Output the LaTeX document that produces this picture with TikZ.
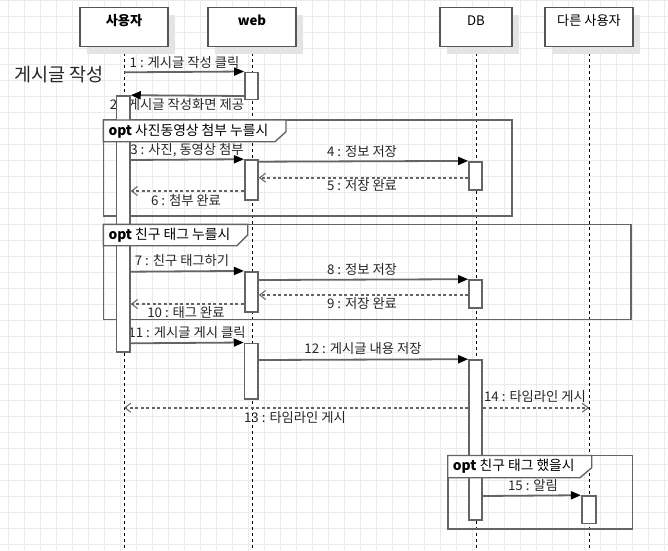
\documentclass[tikz,border=0pt]{standalone}
\usepackage{fontspec}
\setmainfont{Noto Sans CJK KR}
\usetikzlibrary{arrows.meta,calc,shadows}
\definecolor{gridc}{HTML}{EBEBEB}
\definecolor{linec}{HTML}{646464}
\definecolor{boxc}{HTML}{555555}
\definecolor{txtc}{HTML}{262626}
\definecolor{shadowc}{HTML}{E4E4E4}
\pgfdeclarelayer{bg}
\pgfdeclarelayer{lab}
\pgfdeclarelayer{fg}
\pgfsetlayers{bg,lab,main,fg}
\begin{document}
\begin{tikzpicture}[x=1pt,y=-1pt,
  gridline/.style={gridc,line width=1pt},
  lifeline/.style={black,line width=0.9pt,dash pattern=on 3pt off 3pt},
  headbox/.style={draw=boxc,line width=1.3pt,fill=white,minimum height=39pt,inner xsep=0pt,inner ysep=4pt,text height=13.5pt,text depth=17.5pt,font=\fontsize{13.2}{15}\selectfont,text=black,general shadow={fill=shadowc,shadow xshift=7pt,shadow yshift=-7pt}},
  actbar/.style={draw=linec,fill=white,line width=1.6pt,minimum width=13.3pt,inner sep=0pt},
  msg/.style={linec,line width=1.8pt,-{Triangle[length=10pt,width=8pt,color=black]}},
  ret/.style={linec,line width=1.7pt,dash pattern=on 3pt off 2.5pt,-{Straight Barb[length=6pt,width=9pt,line width=1pt]}},
  lbl/.style={font=\fontsize{13.3}{15}\selectfont,text=txtc,inner sep=0pt},
  frameline/.style={linec,line width=1.6pt},
  framehead/.style={draw=linec,fill=white,line width=1.4pt},
  ftxt/.style={font=\fontsize{13.8}{15}\selectfont,text=black,inner sep=0pt,anchor=west}]
\useasboundingbox (0,0) rectangle (668,550);
% ---------- background grid
\begin{pgfonlayer}{bg}
\fill[white] (0,0) rectangle (668,550);
\foreach \i in {0,...,41} \draw[gridline] (8+16*\i,0) -- (8+16*\i,550);
\foreach \j in {0,...,34} \draw[gridline] (0,16*\j) -- (668,16*\j);
\end{pgfonlayer}

% ---------- head boxes
\node[headbox,minimum width=88pt] (u) at (124,27.2) {\textbf{사용자}};
\node[headbox,minimum width=88pt] (w) at (252,27.2) {\textbf{web}};
\node[headbox,minimum width=72pt] (d) at (476,27.2) {DB};
\node[headbox,minimum width=88pt] (o) at (589,27.2) {다른 사용자};
\coordinate (bottom) at (0,550);

\begin{pgfonlayer}{bg}
\draw[lifeline] (u.south) -- (u.south |- bottom);
\draw[lifeline] (w.south) -- (w.south |- bottom);
\draw[lifeline] (d.south) -- (d.south |- bottom);
\draw[lifeline] (o.south) -- (o.south |- bottom);
\draw[frameline] (103.3,120) rectangle (511.7,215.7);
\draw[frameline] (103.3,224.3) rectangle (631,319.3);
\draw[frameline] (447.7,455.5) rectangle (632.3,528.7);
\end{pgfonlayer}

% ---------- title
\node[font=\fontsize{18.5}{21}\selectfont,text=txtc,inner sep=0pt] (title) at (59,75) {게시글 작성};

% ---------- activation bars
\node[actbar,minimum height=256pt] (ub) at (123.3,224) {};
\node[actbar,minimum height=27pt] (wb1) at (251.6,85.8) {};
\node[actbar,minimum height=40pt] (wb2) at (251.4,180) {};
\node[actbar,minimum height=28.3pt] (db1) at (475.6,175.85) {};
\node[actbar,minimum height=40pt] (wb3) at (251.4,291.7) {};
\node[actbar,minimum height=27.7pt] (db2) at (475.6,293.85) {};
\node[actbar,minimum height=55.7pt] (wb4) at (251.2,371.15) {};
\node[actbar,minimum height=160pt] (db3) at (475.6,440) {};
\node[actbar,minimum height=27.3pt,minimum width=14pt] (ob) at (588.7,509.65) {};

% ---------- y levels of messages
\coordinate (y1) at (0,72.3);
\coordinate (y2) at (0,96);
\coordinate (y3) at (0,160);
\coordinate (y4) at (0,161.7);
\coordinate (y5) at (0,177.7);
\coordinate (y6) at (0,191);
\coordinate (y7) at (0,271.7);
\coordinate (y8) at (0,280);
\coordinate (y9) at (0,295);
\coordinate (y10) at (0,304);
\coordinate (y11) at (0,343.3);
\coordinate (y12) at (0,360);
\coordinate (y13) at (0,407.7);
\coordinate (y15) at (0,496);

% ---------- messages
\draw[msg] (u.south |- y1) -- (wb1.north west);
\draw[msg] (wb1.west |- y2) -- (ub.north east);
\draw[msg] (ub.east |- y3) -- (wb2.north west);
\draw[msg] (wb2.east |- y4) -- (db1.north west);
\draw[ret] (db1.west |- y5) -- (wb2.east |- y5);
\draw[ret] (wb2.west |- y6) -- (ub.east |- y6);
\draw[msg] (ub.east |- y7) -- (wb3.north west);
\draw[msg] (wb3.east |- y8) -- (db2.north west);
\draw[ret] (db2.west |- y9) -- (wb3.east |- y9);
\draw[ret] (wb3.west |- y10) -- (ub.east |- y10);
\draw[msg] (ub.east |- y11) -- (wb4.north west);
\draw[msg] (wb4.east |- y12) -- (db3.north west);
\draw[ret] (db3.west |- y13) -- (u.south |- y13);
\draw[ret] (db3.east |- y13) -- (o.south |- y13);
\draw[msg] (db3.east |- y15) -- (ob.north west);

% ---------- message labels
\begin{pgfonlayer}{lab}
\node[lbl] (l1) at (184.5,62.5) {1 : 게시글 작성 클릭};
\node[lbl] (l2) at (177,104.3) {2 : 게시글 작성화면 제공};
\node[lbl] (l3) at (187,150) {3 : 사진, 동영상 첨부};
\node[lbl] (l4) at (362,151.7) {4 : 정보 저장};
\node[lbl] (l5) at (362,186) {5 : 저장 완료};
\node[lbl] (l6) at (186,200) {6 : 첨부 완료};
\node[lbl] (l7) at (182,261) {7 : 친구 태그하기};
\node[lbl] (l8) at (362,269.3) {8 : 정보 저장};
\node[lbl] (l9) at (362,304) {9 : 저장 완료};
\node[lbl] (l10) at (186,312.7) {10 : 태그 완료};
\node[lbl] (l11) at (187,332.3) {11 : 게시글 게시 클릭};
\node[lbl] (l12) at (363,348.3) {12 : 게시글 내용 저장};
\node[lbl] (l13) at (295,417.3) {13 : 타임라인 게시};
\node[lbl] (l14) at (535,396.7) {14 : 타임라인 게시};
\node[lbl] (l15) at (533,485.7) {15 : 알림};
\end{pgfonlayer}

% ---------- frame headers
\begin{pgfonlayer}{fg}
\draw[framehead] (103.3,120) -- (286,120) -- (286,131.7) -- (275,141.7) -- (103.3,141.7) -- cycle;
\node[ftxt] (f1) at (108.3,130.7) {\textbf{opt} 사진동영상 첨부 누를시};
\draw[framehead] (103.3,224.3) -- (247.7,224.3) -- (247.7,235) -- (237,245.7) -- (103.3,245.7) -- cycle;
\node[ftxt] (f2) at (108.3,235) {\textbf{opt} 친구 태그 누를시};
\draw[framehead] (447.7,455.5) -- (591.7,455.5) -- (591.7,467.7) -- (580,477.7) -- (447.7,477.7) -- cycle;
\node[ftxt] (f3) at (452.7,466.7) {\textbf{opt} 친구 태그 했을시};
\end{pgfonlayer}
\end{tikzpicture}
\end{document}
